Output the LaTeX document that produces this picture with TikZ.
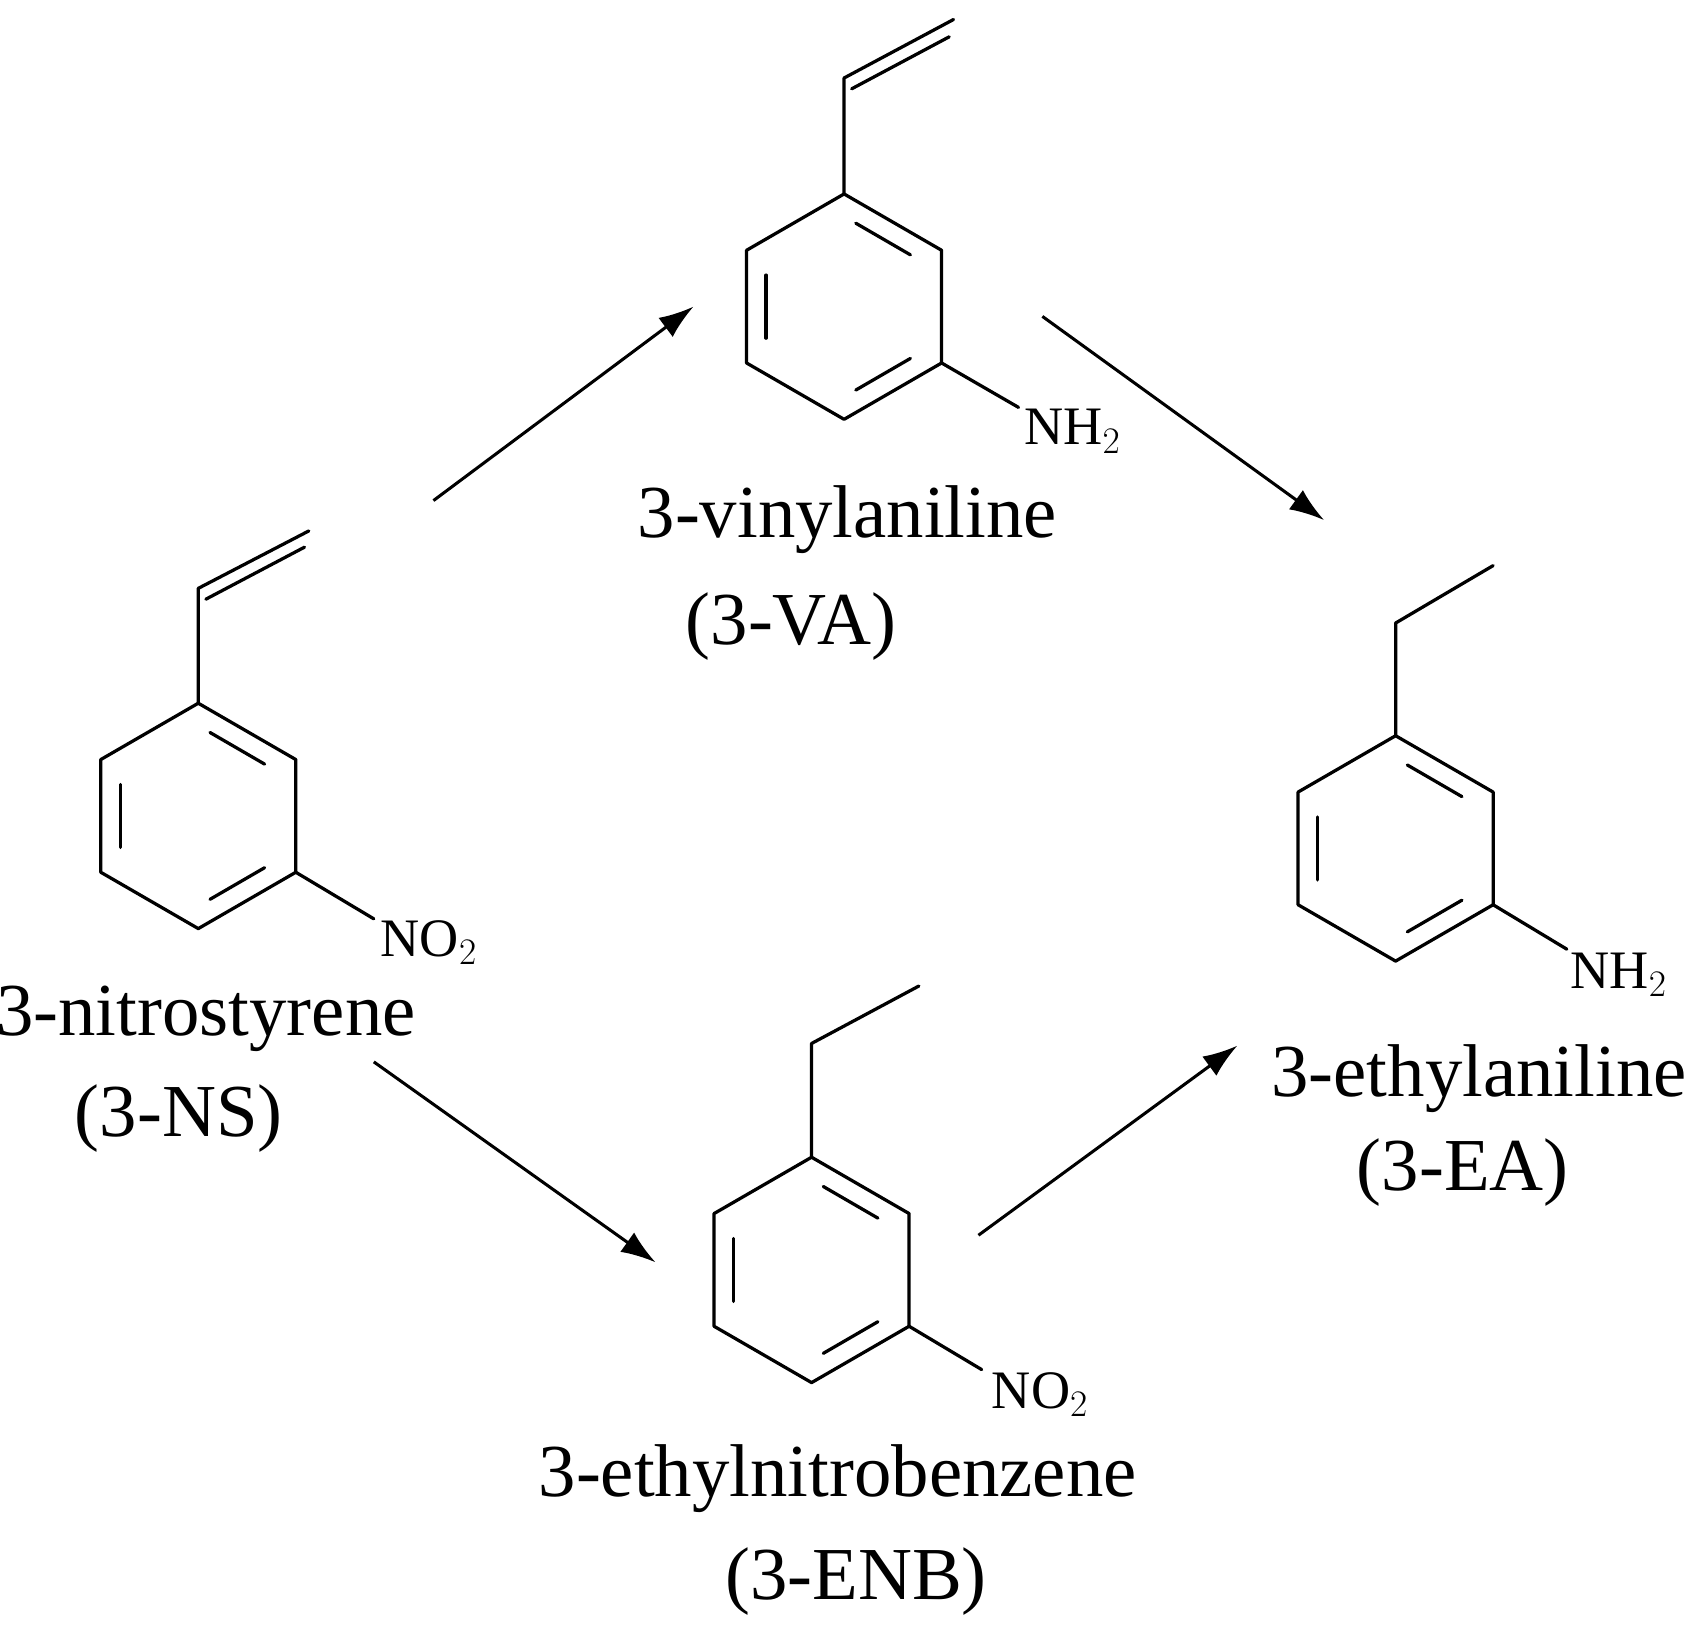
\documentclass[tikz,border=0pt]{standalone}
\usepackage{fontspec}
\setmainfont{Liberation Serif}
\usetikzlibrary{arrows.meta}
\newcommand\benzring[2]{%
\begin{scope}[shift={(#1,#2)}]
\draw[bond] (0,-104)--(90,-52)--(90,52)--(0,104)--(-90,52)--(-90,-52)--cycle;
\draw[bond] (10.8,-77)--(61.2,-47.8);
\draw[bond] (61.2,47.8)--(10.8,77);
\draw[bond] (-72,29.1)--(-72,-29.1);
\end{scope}}
\begin{document}
\begin{tikzpicture}[x=0.5pt,y=-0.5pt,
 bond/.style={line width=1.5pt,line cap=round,line join=round},
 arr/.style={line width=1.4pt,-{Latex[length=16pt,width=11pt]}},
 lab/.style={font=\fontsize{34.5}{40}\selectfont,inner sep=0pt},
 grp/.style={font=\fontsize{25}{30}\selectfont,inner sep=0pt}]
\useasboundingbox (0,0) rectangle (1568,1507);
% 3-VA
\benzring{779}{283}
\draw[bond] (779,179)--(779,72)--(880,18);
\draw[bond] (786,82)--(876,34);
\draw[bond] (869,335)--(940,376);
\node[grp] (va-n) at (990,398) {NH$_2$};
\node[lab] (va1) at (782,480) {3-vinylaniline};
\node[lab] (va2) at (730,578) {(3-VA)};
% 3-NS
\benzring{183}{753}
\draw[bond] (183,649)--(183,543)--(285,490);
\draw[bond] (190,553)--(281,505);
\draw[bond] (273,805)--(345,848);
\node[grp] (ns-n) at (396,870) {NO$_2$};
\node[lab] (ns1) at (190,940) {3-nitrostyrene};
\node[lab] (ns2) at (165,1032) {(3-NS)};
% 3-EA
\benzring{1288}{783}
\draw[bond] (1288,679)--(1288,575)--(1378,522);
\draw[bond] (1378,835)--(1446,876);
\node[grp] (ea-n) at (1494,900) {NH$_2$};
\node[lab] (ea1) at (1365,995) {3-ethylaniline};
\node[lab] (ea2) at (1350,1082) {(3-EA)};
% 3-ENB
\benzring{749}{1172}
\draw[bond] (749,1068)--(749,963)--(848,910);
\draw[bond] (839,1224)--(906,1264);
\node[grp] (enb-n) at (960,1287) {NO$_2$};
\node[lab] (enb1) at (773,1365) {3-ethylnitrobenzene};
\node[lab] (enb2) at (790,1460) {(3-ENB)};
% arrows
\coordinate (a1s) at (400,462); \coordinate (a1e) at (640,283);
\coordinate (a2s) at (962,292); \coordinate (a2e) at (1222,480);
\coordinate (a3s) at (345,980); \coordinate (a3e) at (605,1165);
\coordinate (a4s) at (903,1140); \coordinate (a4e) at (1142,965);
\draw[arr] (a1s)--(a1e);
\draw[arr] (a2s)--(a2e);
\draw[arr] (a3s)--(a3e);
\draw[arr] (a4s)--(a4e);
\end{tikzpicture}
\end{document}
